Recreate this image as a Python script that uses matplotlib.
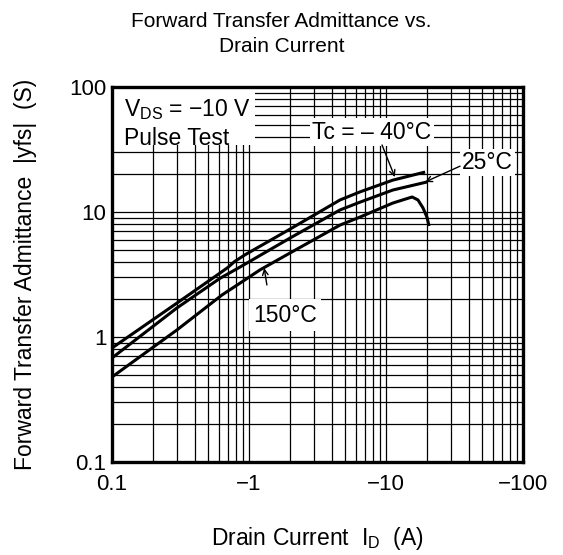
import matplotlib
matplotlib.use("Agg")
import matplotlib.pyplot as plt
from matplotlib.patches import Rectangle
from matplotlib.ticker import LogLocator, NullFormatter

plt.rcParams['font.family'] = ['Liberation Sans', 'DejaVu Sans']

# Data (|I_D| in A, |yfs| in S)
id_m40 = [0.1, 0.298, 0.614, 0.70, 0.78, 0.935, 1.99, 4.62, 6.46, 11.2, 19.3]
yfs_m40 = [0.817, 1.87, 3.25, 3.60, 4.00, 4.55, 7.30, 12.5, 14.5, 18.0, 20.9]

id_25 = [0.1, 0.298, 0.614, 0.86, 1.99, 4.62, 6.46, 11.2, 19.9]
yfs_25 = [0.68, 1.71, 2.95, 3.63, 6.19, 10.4, 12.0, 15.0, 17.4]

id_150 = [0.1, 0.298, 0.635, 0.86, 1.20, 1.99, 4.62, 6.46, 11.2, 15.5, 17.1, 18.6, 19.9, 20.6]
yfs_150 = [0.479, 1.14, 2.17, 2.70, 3.44, 4.70, 7.87, 9.12, 11.8, 13.2, 12.5, 10.8, 9.1, 7.73]

x_ticks = [0.1, 1, 10, 100]
x_ticklabels = ['0.1', '\u22121', '\u221210', '\u2212100']
y_ticks = [0.1, 1, 10, 100]
y_ticklabels = ['0.1', '1', '10', '100']

fig = plt.figure(figsize=(5.63, 5.55), dpi=100)
ax = fig.add_axes([0.199, 0.1676, 0.730, 0.6755])
ax.set_xscale('log')
ax.set_yscale('log')
ax.set_xlim(0.1, 100)
ax.set_ylim(0.1, 100)

ax.xaxis.set_minor_locator(LogLocator(base=10, subs=range(2, 10)))
ax.yaxis.set_minor_locator(LogLocator(base=10, subs=range(2, 10)))
ax.xaxis.set_minor_formatter(NullFormatter())
ax.yaxis.set_minor_formatter(NullFormatter())
ax.set_xticks(x_ticks)
ax.set_xticklabels(x_ticklabels)
ax.set_yticks(y_ticks)
ax.set_yticklabels(y_ticklabels)
ax.grid(True, which='both', color='black', lw=0.9)
ax.set_axisbelow(True)
ax.tick_params(which='both', length=0, labelsize=16)
ax.tick_params(axis='x', pad=9)
ax.tick_params(axis='y', pad=4)
for s in ax.spines.values():
    s.set_linewidth(2.4)
    s.set_zorder(6)

for xs, ys in [(id_m40, yfs_m40), (id_25, yfs_25), (id_150, yfs_150)]:
    ax.plot(xs, ys, color='black', lw=2.2, zorder=3, solid_capstyle='butt')

fs = 16.5
# white box with conditions
ax.add_patch(Rectangle((0, 0.845), 0.348, 0.155, transform=ax.transAxes,
                       facecolor='white', edgecolor='none', zorder=2.5))
ax.text(0.030, 0.940, 'V$_{\\mathregular{DS}}$ = \u221210 V', transform=ax.transAxes,
        fontsize=fs, ha='left', va='center', zorder=4)
ax.text(0.030, 0.864, 'Pulse Test', transform=ax.transAxes,
        fontsize=fs, ha='left', va='center', zorder=4)

box = dict(facecolor='white', edgecolor='none', pad=1.5)
ax.text(7.9, 43.7, 'Tc = \u2013 40\u00b0C', fontsize=fs, ha='center', va='center',
        bbox=box, zorder=4)
ax.text(55.0, 25.1, '25\u00b0C', fontsize=fs, ha='center', va='center',
        bbox=box, zorder=4)
ax.text(1.83, 1.50, '150\u00b0C', fontsize=fs, ha='center', va='center',
        bbox=dict(facecolor='white', edgecolor='none', pad=3), zorder=4)

arrow = dict(arrowstyle='->', color='black', lw=1.0, shrinkA=0, shrinkB=0)
ax.annotate('', xy=(11.6, 19.05), xytext=(9.35, 34.4), arrowprops=arrow, zorder=5)
ax.annotate('', xy=(19.3, 17.4), xytext=(34.7, 23.3), arrowprops=arrow, zorder=5)
ax.annotate('', xy=(1.29, 3.56), xytext=(1.35, 2.61), arrowprops=arrow, zorder=5)

ax.set_xlabel('Drain Current  I$_{\\mathregular{D}}$  (A)', fontsize=fs)
ax.set_ylabel('Forward Transfer Admittance  |yfs|  (S)', fontsize=fs)
ax.xaxis.set_label_coords(0.5, -0.168)
ax.yaxis.set_label_coords(-0.182, 0.5)
fig.text(0.5, 0.979, 'Forward Transfer Admittance vs.\nDrain Current', fontsize=15,
         ha='center', va='top', linespacing=1.4)

fig.savefig('out.png', dpi=100)
